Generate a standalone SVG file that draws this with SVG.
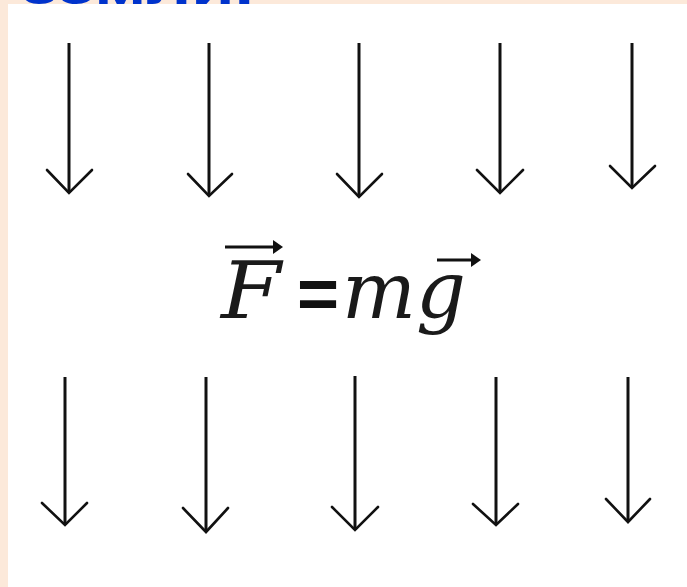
<svg xmlns="http://www.w3.org/2000/svg" width="687" height="587" viewBox="0 0 687 587">
  <style>
    .shaft { stroke: #111; stroke-width: 3; fill: none; stroke-linecap: butt; }
    .head { stroke: #111; stroke-width: 2.6; fill: none; stroke-linejoin: miter; stroke-linecap: round; }
    .title { font-family: "Liberation Sans", Arial, sans-serif; font-weight: bold; font-size: 44px; fill: #0033CC; }
    .math { font-family: "DejaVu Serif", "Liberation Serif", serif; font-style: italic; font-size: 78px; fill: #1a1a1a; }
    .eq { font-family: "Liberation Sans", Arial, sans-serif; font-weight: bold; font-size: 72px; fill: #111; }
    .vec { stroke: #111; stroke-width: 3; fill: none; }
  </style>
  <rect x="0" y="0" width="687" height="587" fill="#FCE9DA"/>
  <text class="title" x="22" y="4" textLength="232" lengthAdjust="spacingAndGlyphs">земли.</text>
  <rect x="8" y="4" width="679" height="583" fill="#FFFFFF"/>

  <g id="arrows-top">
    <g id="top1"><line class="shaft" x1="69" y1="43" x2="69" y2="193"/><polyline class="head" points="47,170 69,193 92,170"/></g>
    <g id="top2"><line class="shaft" x1="209" y1="43" x2="209" y2="196"/><polyline class="head" points="188,174 209,196 232,174"/></g>
    <g id="top3"><line class="shaft" x1="359" y1="43" x2="359" y2="197"/><polyline class="head" points="337,174 359,197 382,174"/></g>
    <g id="top4"><line class="shaft" x1="500" y1="43" x2="500" y2="193"/><polyline class="head" points="477,170 500,193 523,170"/></g>
    <g id="top5"><line class="shaft" x1="632" y1="43" x2="632" y2="188"/><polyline class="head" points="610,166 632,188 655,166"/></g>
  </g>

  <g id="formula">
    <text class="math" x="221" y="318" textLength="60" lengthAdjust="spacingAndGlyphs">F</text>
    <path class="vec" d="M225,247 H280"/>
    <path d="M273,240 L283,247 L273,254 Z" fill="#111"/>
    <text class="eq" x="297" y="318">=</text>
    <text class="math" x="342" y="318">m</text>
    <text class="math" x="416" y="318">g</text>
    <path class="vec" d="M437,260 H478"/>
    <path d="M471,253 L481,260 L471,267 Z" fill="#111"/>
  </g>

  <g id="arrows-bottom">
    <g id="bot1"><line class="shaft" x1="65" y1="377" x2="65" y2="525"/><polyline class="head" points="42,503 65,525 87,503"/></g>
    <g id="bot2"><line class="shaft" x1="206" y1="377" x2="206" y2="532"/><polyline class="head" points="183,508 206,532 228,508"/></g>
    <g id="bot3"><line class="shaft" x1="355" y1="376" x2="355" y2="530"/><polyline class="head" points="332,507 355,530 378,507"/></g>
    <g id="bot4"><line class="shaft" x1="496" y1="377" x2="496" y2="525"/><polyline class="head" points="473,504 496,525 518,504"/></g>
    <g id="bot5"><line class="shaft" x1="628" y1="377" x2="628" y2="522"/><polyline class="head" points="606,499 628,522 650,499"/></g>
  </g>
</svg>
